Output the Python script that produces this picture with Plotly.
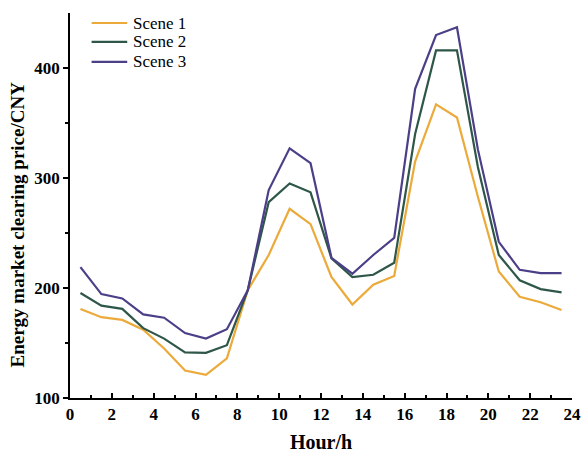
import plotly.graph_objects as go

hours = [0.5, 1.5, 2.5, 3.5, 4.5, 5.5, 6.5, 7.5, 8.5, 9.5, 10.5, 11.5,
         12.5, 13.5, 14.5, 15.5, 16.5, 17.5, 18.5, 19.5, 20.5, 21.5, 22.5, 23.5]
scene1 = [181, 173.5, 171, 162, 145, 125, 121, 136, 198, 230, 272, 258,
          210, 185, 203, 211, 315, 367, 355, 283, 215, 192, 187, 180]
scene2 = [195.5, 184, 181, 163.5, 154, 141.5, 141, 148, 198, 278, 295, 287,
          227, 210, 212, 223, 340, 416, 416, 310, 230, 207, 199, 196]
scene3 = [219, 194.5, 190.5, 176, 173, 159, 154, 162.5, 198, 289, 327, 313.5,
          227.5, 213, 230, 245.5, 381, 430, 437, 326, 242, 216.5, 213.5, 213.5]
names = ["Scene 1", "Scene 2", "Scene 3"]
colors = ["#EBAA3A", "#2E5747", "#4B3F88"]
x_ticks = list(range(0, 25, 2))
y_ticks = [100, 200, 300, 400]

font_family = "Times New Roman, Liberation Serif, serif"

fig = go.Figure()
for name, ys, c in zip(names, [scene1, scene2, scene3], colors):
    fig.add_trace(go.Scatter(x=hours, y=ys, mode="lines", name=name,
                             line=dict(color=c, width=2.2), showlegend=False))

# legend drawn manually to match the compact spacing of the reference
leg_y = [0.974, 0.925, 0.873]
for name, c, yy in zip(names, colors, leg_y):
    fig.add_shape(type="line", xref="paper", yref="paper",
                  x0=0.043, x1=0.114, y0=yy, y1=yy,
                  line=dict(color=c, width=2.2))
    fig.add_annotation(xref="paper", yref="paper", x=0.122, y=yy,
                       xanchor="left", yanchor="middle", text=name,
                       showarrow=False,
                       font=dict(size=17, family=font_family, color="black"))

# y-axis title
fig.add_annotation(xref="paper", yref="paper", x=-0.104, y=0.45,
                   xanchor="center", yanchor="middle", textangle=-90,
                   text="<b>Energy market clearing price/CNY</b>", showarrow=False,
                   font=dict(size=19, family=font_family, color="black"))

fig.update_layout(
    width=585, height=454,
    margin=dict(l=70, r=4, t=13, b=54),
    paper_bgcolor="white", plot_bgcolor="white",
    font=dict(family=font_family, color="black"),
    showlegend=False,
)
fig.update_xaxes(
    range=[0, 24], tickvals=x_ticks, ticktext=[f"<b>{v}</b>" for v in x_ticks],
    ticklabeloverflow="allow",
    ticks="inside", ticklen=5, tickwidth=1.5, tickcolor="black",
    minor=dict(dtick=1, ticks="inside", ticklen=3, tickwidth=1.5, tickcolor="black"),
    showline=True, linecolor="black", linewidth=1.5,
    showgrid=False, zeroline=False,
    tickfont=dict(size=17, family=font_family, weight="bold"),
    title=dict(text="<b>Hour/h</b>", font=dict(size=20, family=font_family), standoff=12),
)
fig.update_yaxes(
    range=[100, 450], tickvals=y_ticks, ticktext=[f"<b>{v}</b>" for v in y_ticks],
    ticks="outside", ticklen=5, tickwidth=1.5, tickcolor="black",
    minor=dict(tickvals=[150, 250, 350], ticks="outside", ticklen=3, tickwidth=1.5, tickcolor="black"),
    showline=True, linecolor="black", linewidth=1.5,
    showgrid=False, zeroline=False,
    tickfont=dict(size=17, family=font_family, weight="bold"),
)

fig.write_html("out.html")
